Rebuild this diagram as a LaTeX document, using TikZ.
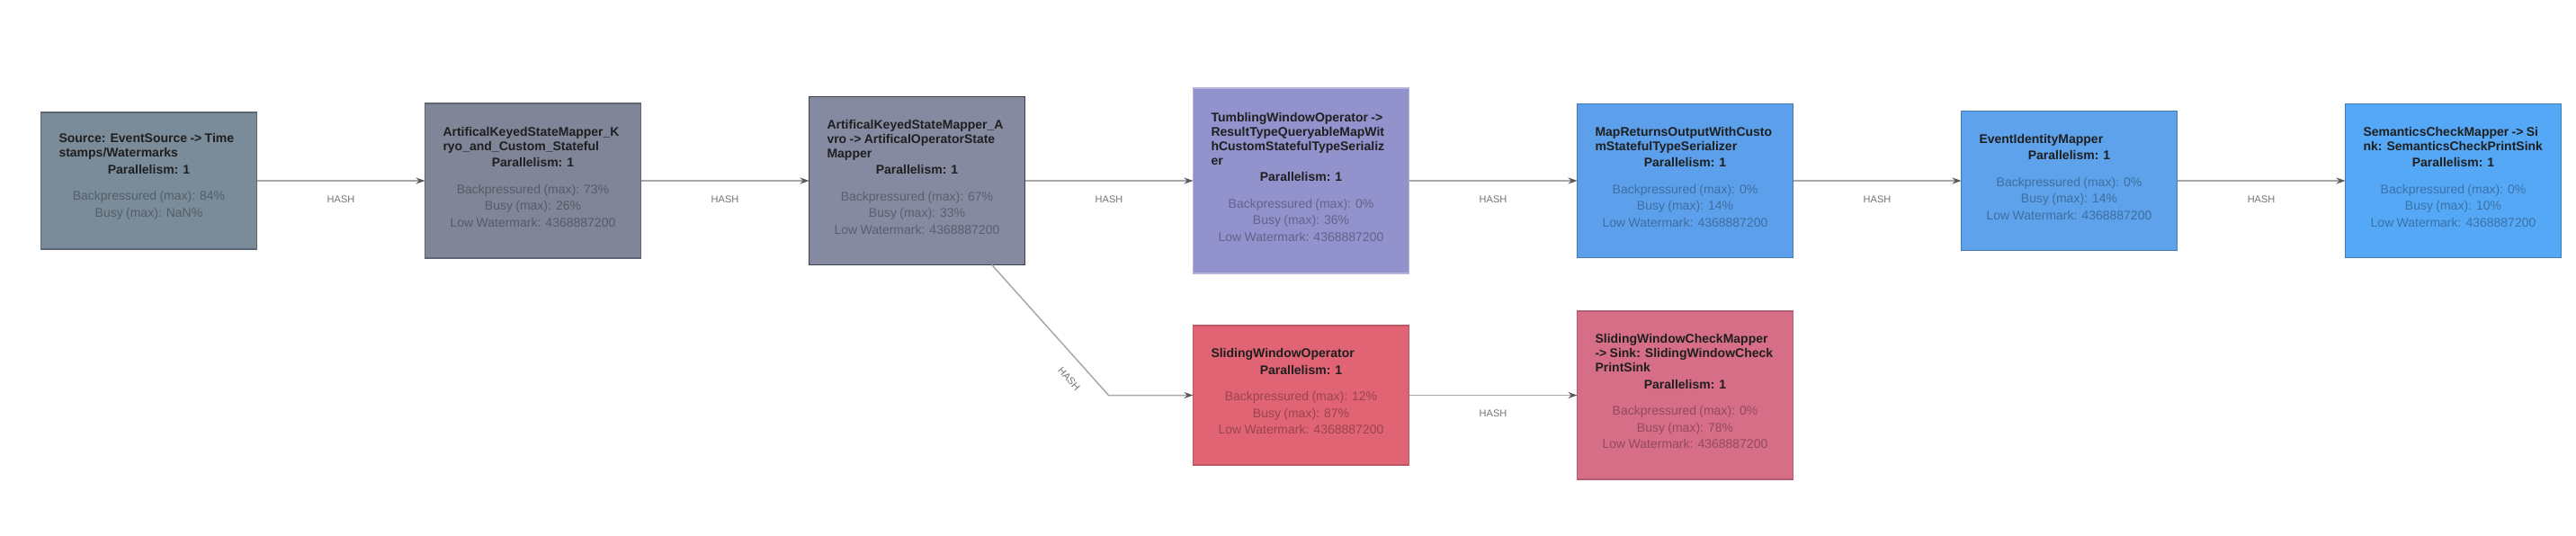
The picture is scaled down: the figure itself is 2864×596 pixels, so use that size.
\documentclass[tikz,border=0pt]{standalone}
\usepackage{fontspec}
\setmainfont{Liberation Sans}
\usetikzlibrary{arrows.meta, positioning}

\definecolor{srcgray}{HTML}{7A8B99}
\definecolor{kryogray}{HTML}{808698}
\definecolor{avrogray}{HTML}{868AA0}
\definecolor{tumblepurple}{HTML}{9292CC}
\definecolor{mapblue}{HTML}{5CA0EC}
\definecolor{identblue}{HTML}{5DA2EA}
\definecolor{sinkblue}{HTML}{55A8F5}
\definecolor{slidered}{HTML}{E16474}
\definecolor{checkred}{HTML}{D76E87}
\definecolor{edgegray}{HTML}{A8A8A8}

% title, parallelism and metrics of one operator
\newcommand{\opinfo}[3]{%
  {\raggedright\fontsize{14}{16}\selectfont\bfseries #2\par}%
  {\centering\fontsize{14}{18.5}\selectfont\bfseries Parallelism: 1\par}%
  \vspace{11pt}%
  {\centering\fontsize{14}{18.5}\selectfont\color{#1!68!black}#3\par}%
  \vspace{9pt}}

\tikzset{
    operator/.style={rectangle, fill=#1, draw=#1!75!black, line width=1.5pt, outer sep=0pt,
        inner sep=0pt, minimum width=240pt, text width=200pt, text=black!88},
    flow/.style={draw=edgegray, line width=1.5pt, -{Stealth[length=10pt, width=7pt, color=black!65]}},
    hashlabel/.style={font=\fontsize{11}{11}\selectfont, text=black!55, inner sep=0pt, below=16pt}
}

\begin{document}
\begin{tikzpicture}[node distance=187pt]
    \fill [white] (0,0) rectangle (2864pt,-596pt);
    \useasboundingbox (0,0) rectangle (2864pt,-596pt);

    \node (source) [operator=srcgray, minimum height=152pt] at (165.5pt,-201pt)
        {\opinfo{srcgray}{Source: EventSource -> Time\\stamps/Watermarks}{Backpressured (max): 84\%\\Busy (max): NaN\%}};
    \node (kryo) [operator=kryogray, minimum height=172pt, right=of source]
        {\opinfo{kryogray}{ArtificalKeyedStateMapper\_K\\ryo\_and\_Custom\_Stateful}{Backpressured (max): 73\%\\Busy (max): 26\%\\Low Watermark: 4368887200}};
    \node (avro) [operator=avrogray, draw=avrogray!45!black, minimum height=187pt, right=of kryo]
        {\opinfo{avrogray}{ArtificalKeyedStateMapper\_A\\vro -> ArtificalOperatorState\\Mapper}{Backpressured (max): 67\%\\Busy (max): 33\%\\Low Watermark: 4368887200}};
    \node (tumble) [operator=tumblepurple, draw=tumblepurple!70!white, minimum height=206pt, right=of avro]
        {\opinfo{tumblepurple}{TumblingWindowOperator ->\\ResultTypeQueryableMapWit\\hCustomStatefulTypeSerializ\\er}{Backpressured (max): 0\%\\Busy (max): 36\%\\Low Watermark: 4368887200}};
    \node (mapreturns) [operator=mapblue, minimum height=171pt, right=of tumble]
        {\opinfo{mapblue}{MapReturnsOutputWithCusto\\mStatefulTypeSerializer}{Backpressured (max): 0\%\\Busy (max): 14\%\\Low Watermark: 4368887200}};
    \node (identity) [operator=identblue, minimum height=155pt, right=of mapreturns]
        {\opinfo{identblue}{EventIdentityMapper}{Backpressured (max): 0\%\\Busy (max): 14\%\\Low Watermark: 4368887200}};
    \node (semsink) [operator=sinkblue, minimum height=171pt, right=of identity]
        {\opinfo{sinkblue}{SemanticsCheckMapper -> Si\\nk: SemanticsCheckPrintSink}{Backpressured (max): 0\%\\Busy (max): 10\%\\Low Watermark: 4368887200}};

    \node (sliding) [operator=slidered, draw=slidered!85!black, minimum height=155pt] at ([yshift=-238.5pt]tumble.center)
        {\opinfo{slidered}{SlidingWindowOperator}{Backpressured (max): 12\%\\Busy (max): 87\%\\Low Watermark: 4368887200}};
    \node (slidesink) [operator=checkred, draw=checkred!85!black, minimum height=187pt, right=of sliding]
        {\opinfo{checkred}{SlidingWindowCheckMapper\\-> Sink: SlidingWindowCheck\\PrintSink}{Backpressured (max): 0\%\\Busy (max): 78\%\\Low Watermark: 4368887200}};
    \coordinate (bend) at ([xshift=-94pt]sliding.west);

    \draw [flow] (source) -- node [hashlabel] {HASH} (kryo);
    \draw [flow] (kryo) -- node [hashlabel] {HASH} (avro);
    \draw [flow] (avro) -- node [hashlabel] {HASH} (tumble);
    \draw [flow] (tumble) -- node [hashlabel] {HASH} (mapreturns);
    \draw [flow] (mapreturns) -- node [hashlabel] {HASH} (identity);
    \draw [flow] (identity) -- node [hashlabel] {HASH} (semsink);
    \draw [flow] (avro) -- node [hashlabel, sloped, pos=0.78] {HASH} (bend) -- (sliding);
    \draw [flow] (sliding) -- node [hashlabel] {HASH} (slidesink);
\end{tikzpicture}
\end{document}
